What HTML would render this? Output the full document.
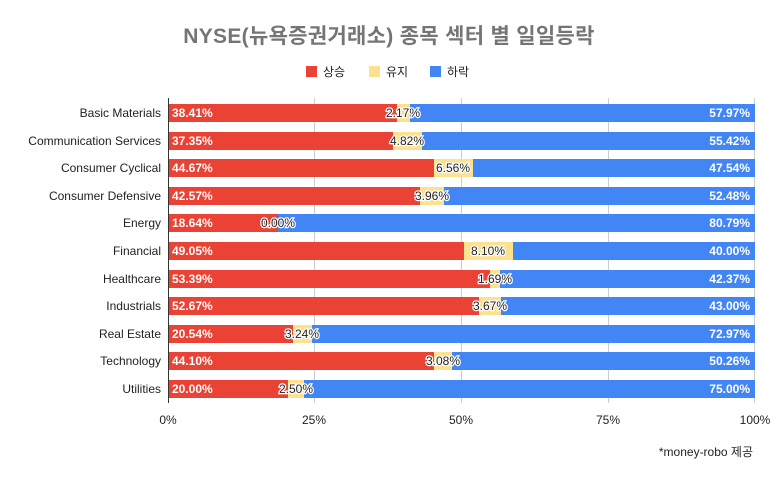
<!DOCTYPE html><html><head><meta charset="utf-8"><style>body{margin:0;background:#fff}svg{display:block}text{font-family:"Liberation Sans","Noto Sans CJK KR",sans-serif}</style></head><body>
<svg width="779" height="483" xmlns="http://www.w3.org/2000/svg">
<rect width="779" height="483" fill="#fff"/>
<text x="389" y="43" text-anchor="middle" font-size="21" font-weight="bold" fill="#757575" letter-spacing="0.3">NYSE(뉴욕증권거래소) 종목 섹터 별 일일등락</text>
<rect x="306" y="66" width="11" height="11" fill="#ea4335"/><text x="323" y="76" font-size="12" fill="#222">상승</text>
<rect x="369" y="66" width="11" height="11" fill="#fce18f"/><text x="386" y="76" font-size="12" fill="#222">유지</text>
<rect x="430" y="66" width="11" height="11" fill="#4285f4"/><text x="447" y="76" font-size="12" fill="#222">하락</text>
<g stroke="#ccc" stroke-width="1"><line x1="314.5" y1="98" x2="314.5" y2="403"/><line x1="461.5" y1="98" x2="461.5" y2="403"/><line x1="608.5" y1="98" x2="608.5" y2="403"/><line x1="754.5" y1="98" x2="754.5" y2="403"/></g>
<g font-size="12" fill="#222" text-anchor="middle"><text x="168" y="424">0%</text><text x="314" y="424">25%</text><text x="461" y="424">50%</text><text x="608" y="424">75%</text><text x="755" y="424">100%</text></g>
<g font-size="12" fill="#222" text-anchor="end">
<text x="161" y="117">Basic Materials</text><text x="161" y="145">Communication Services</text><text x="161" y="172">Consumer Cyclical</text><text x="161" y="200">Consumer Defensive</text><text x="161" y="227">Energy</text><text x="161" y="255">Financial</text><text x="161" y="283">Healthcare</text><text x="161" y="310">Industrials</text><text x="161" y="338">Real Estate</text><text x="161" y="365">Technology</text><text x="161" y="393">Utilities</text></g>
<g>
<rect x="168" y="104" width="229" height="18" fill="#ea4335"/><rect x="397" y="104" width="13" height="18" fill="#fce18f"/><rect x="410" y="104" width="345" height="18" fill="#4285f4"/>
<rect x="168" y="132" width="225" height="18" fill="#ea4335"/><rect x="393" y="132" width="29" height="18" fill="#fce18f"/><rect x="422" y="132" width="333" height="18" fill="#4285f4"/>
<rect x="168" y="159" width="266" height="18" fill="#ea4335"/><rect x="434" y="159" width="39" height="18" fill="#fce18f"/><rect x="473" y="159" width="282" height="18" fill="#4285f4"/>
<rect x="168" y="187" width="252" height="18" fill="#ea4335"/><rect x="420" y="187" width="24" height="18" fill="#fce18f"/><rect x="444" y="187" width="311" height="18" fill="#4285f4"/>
<rect x="168" y="214" width="110" height="18" fill="#ea4335"/><rect x="278" y="214" width="477" height="18" fill="#4285f4"/>
<rect x="168" y="242" width="296" height="18" fill="#ea4335"/><rect x="464" y="242" width="49" height="18" fill="#fce18f"/><rect x="513" y="242" width="242" height="18" fill="#4285f4"/>
<rect x="168" y="270" width="322" height="18" fill="#ea4335"/><rect x="490" y="270" width="10" height="18" fill="#fce18f"/><rect x="500" y="270" width="255" height="18" fill="#4285f4"/>
<rect x="168" y="297" width="311" height="18" fill="#ea4335"/><rect x="479" y="297" width="22" height="18" fill="#fce18f"/><rect x="501" y="297" width="254" height="18" fill="#4285f4"/>
<rect x="168" y="325" width="125" height="18" fill="#ea4335"/><rect x="293" y="325" width="19" height="18" fill="#fce18f"/><rect x="312" y="325" width="443" height="18" fill="#4285f4"/>
<rect x="168" y="352" width="266" height="18" fill="#ea4335"/><rect x="434" y="352" width="18" height="18" fill="#fce18f"/><rect x="452" y="352" width="303" height="18" fill="#4285f4"/>
<rect x="168" y="380" width="120" height="18" fill="#ea4335"/><rect x="288" y="380" width="16" height="18" fill="#fce18f"/><rect x="304" y="380" width="451" height="18" fill="#4285f4"/>
</g>
<line x1="168.5" y1="98" x2="168.5" y2="403" stroke="#333"/>
<g font-size="12" font-weight="bold" fill="#fff">
<text x="172" y="117">38.41%</text><text x="172" y="145">37.35%</text><text x="172" y="172">44.67%</text><text x="172" y="200">42.57%</text><text x="172" y="227">18.64%</text><text x="172" y="255">49.05%</text><text x="172" y="283">53.39%</text><text x="172" y="310">52.67%</text><text x="172" y="338">20.54%</text><text x="172" y="365">44.10%</text><text x="172" y="393">20.00%</text>
</g>
<g font-size="12" font-weight="bold" fill="#fff" text-anchor="end">
<text x="750" y="117">57.97%</text><text x="750" y="145">55.42%</text><text x="750" y="172">47.54%</text><text x="750" y="200">52.48%</text><text x="750" y="227">80.79%</text><text x="750" y="255">40.00%</text><text x="750" y="283">42.37%</text><text x="750" y="310">43.00%</text><text x="750" y="338">72.97%</text><text x="750" y="365">50.26%</text><text x="750" y="393">75.00%</text>
</g>
<g font-size="12" fill="#222" text-anchor="middle" stroke="#fff" stroke-width="2.5" paint-order="stroke">
<text x="403" y="117">2.17%</text><text x="407" y="145">4.82%</text><text x="453" y="172">6.56%</text><text x="432" y="200">3.96%</text><text x="278" y="227">0.00%</text><text x="488" y="255">8.10%</text><text x="495" y="283">1.69%</text><text x="490" y="310">3.67%</text><text x="302" y="338">3.24%</text><text x="443" y="365">3.08%</text><text x="296" y="393">2.50%</text>
</g>
<text x="753" y="456" text-anchor="end" font-size="12" fill="#222">*money-robo 제공</text>
</svg></body></html>
